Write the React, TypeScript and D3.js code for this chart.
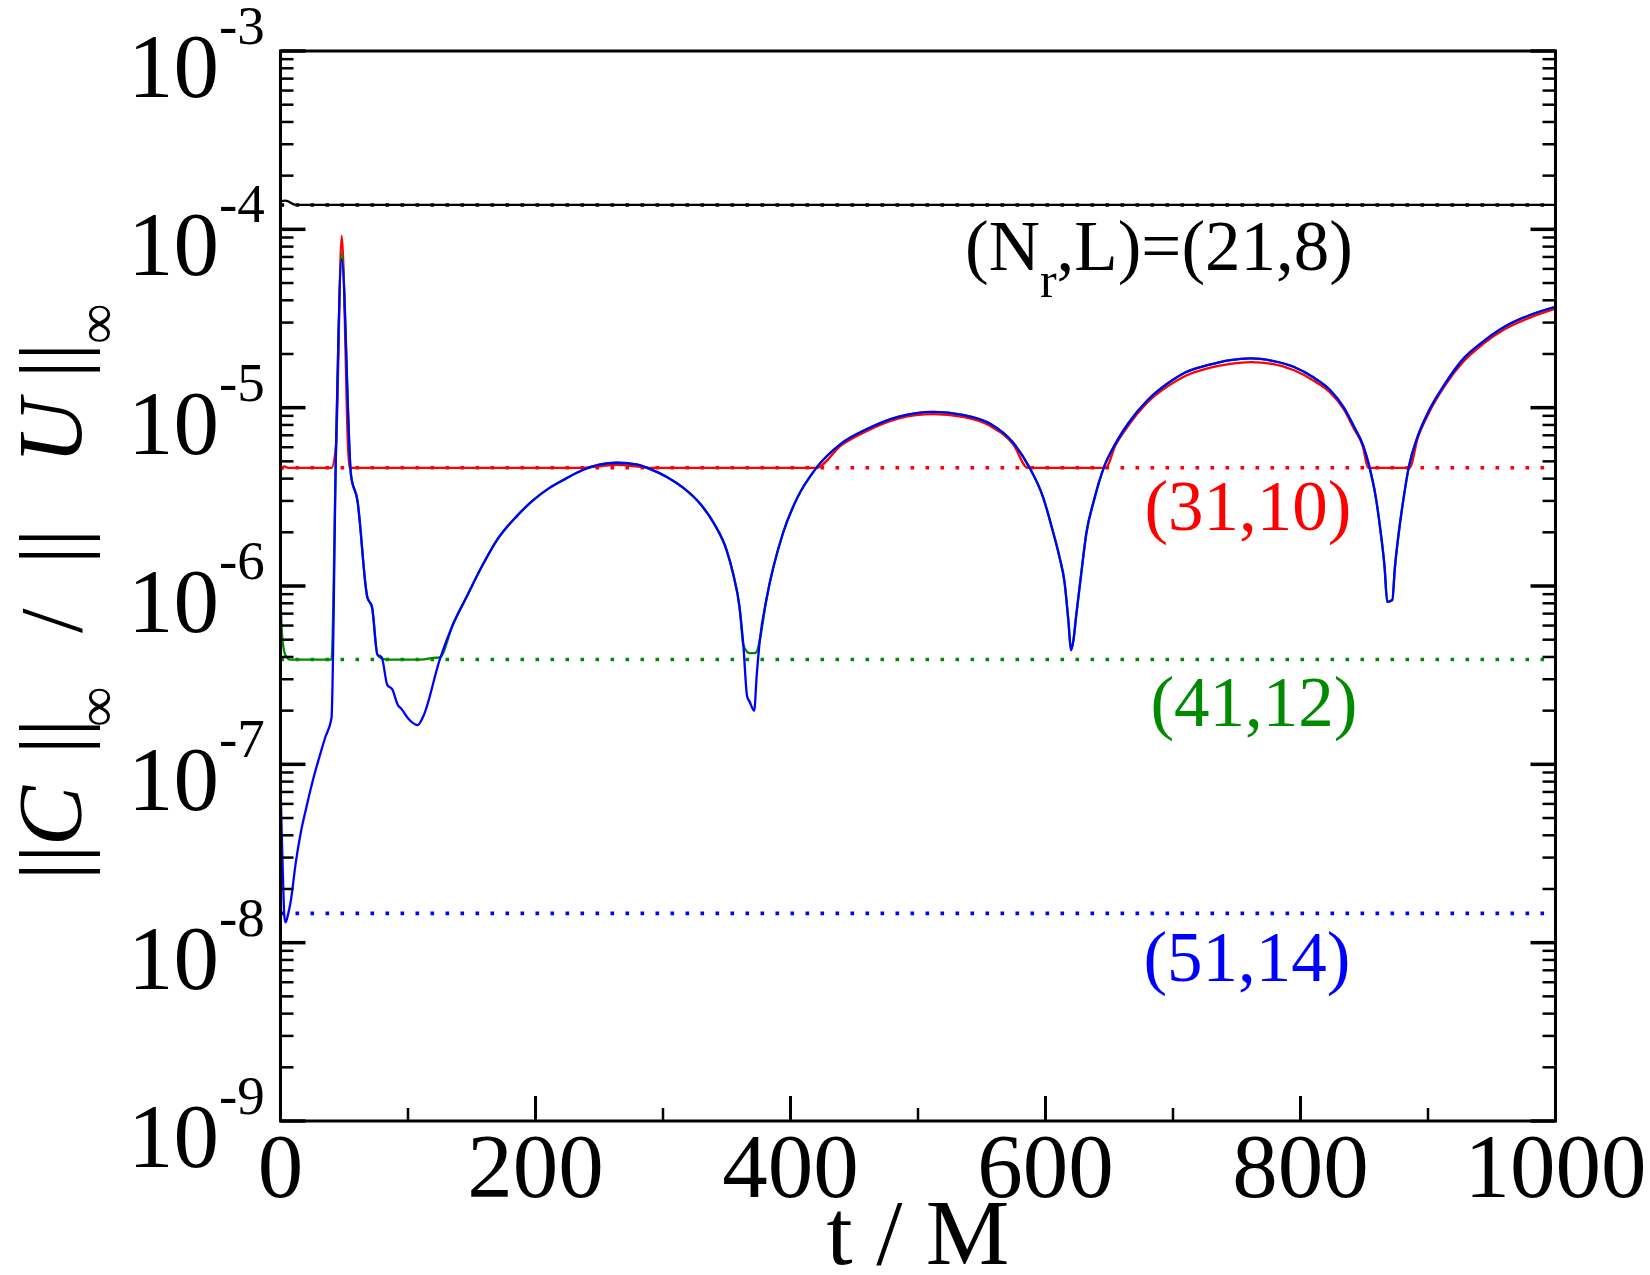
import React from "react";
import * as d3 from "d3";

// ---------- data (t / M, value) ----------
const blueT = [0, 1, 2, 3, 4, 6, 8, 12, 16, 20, 25, 30, 35, 40, 43.5, 48, 55.3, 60.3, 68, 71.8, 76, 79.4, 83.8, 87.7, 91.9, 95, 100.3, 107.6, 112, 125, 135, 146, 158, 170, 185, 198, 211, 224, 237, 250, 264, 280, 290, 303, 316, 329, 340, 350, 355, 360, 363, 366, 368, 371.5, 373.5, 376, 381, 394, 405, 420, 440, 460, 485, 512, 535, 556, 575, 587, 598, 606, 611, 615, 618, 620, 622, 624, 628, 632, 638, 646, 655, 665, 680, 696, 710, 727, 745, 761, 778, 795, 810, 823, 834, 842, 849, 854, 859, 863, 866, 868, 872, 874, 877, 881, 885, 892, 901, 913, 928, 943, 960, 980, 1000];
const blueV = [7.76e-8, 3.98e-8, 2.24e-8, 1.41e-8, 1.30e-8, 1.45e-8, 1.70e-8, 2.82e-8, 4.17e-8, 5.62e-8, 7.94e-8, 1.07e-7, 1.41e-7, 1.82e-7, 5.62e-6, 6.81e-5, 4.19e-6, 3.03e-6, 8.71e-7, 7.59e-7, 4.13e-7, 3.98e-7, 2.78e-7, 2.63e-7, 2.16e-7, 2.04e-7, 1.80e-7, 1.66e-7, 1.86e-7, 3.89e-7, 6.03e-7, 8.71e-7, 1.29e-6, 1.82e-6, 2.45e-6, 3.02e-6, 3.55e-6, 4.01e-6, 4.47e-6, 4.79e-6, 4.91e-6, 4.79e-6, 4.52e-6, 4.09e-6, 3.55e-6, 2.90e-6, 2.24e-6, 1.58e-6, 1.17e-6, 7.64e-7, 4.68e-7, 2.40e-7, 2.24e-7, 2.00e-7, 3.16e-7, 5.01e-7, 8.32e-7, 1.97e-6, 3.09e-6, 4.57e-6, 6.31e-6, 7.59e-6, 8.91e-6, 9.48e-6, 9.12e-6, 8.17e-6, 6.31e-6, 4.67e-6, 3.16e-6, 2.00e-6, 1.45e-6, 1.04e-6, 6.31e-7, 4.37e-7, 5.01e-7, 6.76e-7, 1.17e-6, 1.97e-6, 3.02e-6, 4.67e-6, 6.31e-6, 8.18e-6, 1.10e-5, 1.37e-5, 1.58e-5, 1.73e-5, 1.85e-5, 1.89e-5, 1.83e-5, 1.69e-5, 1.48e-5, 1.26e-5, 1.00e-5, 7.82e-6, 6.17e-6, 4.67e-6, 3.16e-6, 1.97e-6, 1.26e-6, 8.15e-7, 8.34e-7, 1.26e-6, 1.97e-6, 3.16e-6, 4.67e-6, 6.92e-6, 9.70e-6, 1.35e-5, 1.89e-5, 2.34e-5, 2.84e-5, 3.31e-5, 3.68e-5];

const redT = [0, 3, 6, 40, 43.5, 48, 54, 237, 245, 264, 283, 292, 420, 440, 460, 485, 512, 535, 556, 575, 586, 647, 655, 665, 680, 696, 710, 727, 745, 761, 778, 795, 810, 823, 834, 842, 849, 853, 885.5, 892, 901, 913, 928, 943, 960, 980, 1000];
const redV = [4.41e-6, 4.68e-6, 4.60e-6, 4.60e-6, 6.10e-6, 9.20e-5, 4.60e-6, 4.60e-6, 4.65e-6, 4.78e-6, 4.65e-6, 4.60e-6, 4.60e-6, 6.17e-6, 7.41e-6, 8.71e-6, 9.20e-6, 8.87e-6, 7.94e-6, 6.17e-6, 4.60e-6, 4.60e-6, 6.17e-6, 7.94e-6, 1.07e-5, 1.32e-5, 1.51e-5, 1.66e-5, 1.76e-5, 1.80e-5, 1.76e-5, 1.62e-5, 1.42e-5, 1.22e-5, 9.77e-6, 7.59e-6, 6.03e-6, 4.60e-6, 4.60e-6, 6.76e-6, 9.44e-6, 1.32e-5, 1.82e-5, 2.27e-5, 2.75e-5, 3.20e-5, 3.59e-5];

const greenT = [0, 1, 2, 3, 5, 7, 40, 43.5, 48, 55.3, 60.3, 68, 71.8, 76, 80, 84, 110, 120, 125, 135, 146, 158, 170, 185, 198, 211, 224, 237, 250, 264, 280, 290, 303, 316, 329, 340, 350, 355, 360, 363, 366, 368, 371.5, 373.5, 376, 381, 394, 405, 420, 440, 460, 485, 512, 535, 556, 575, 587, 598, 606, 611, 615, 618, 620, 622, 624, 628, 632, 638, 646, 655, 665, 680, 696, 710, 727, 745, 761, 778, 795, 810, 823, 834, 842, 849, 854, 859, 863, 866, 868, 872, 874, 877, 881, 885, 892, 901, 913, 928, 943, 960, 980, 1000];
const greenV = [8.71e-7, 5.62e-7, 4.68e-7, 4.27e-7, 3.98e-7, 3.87e-7, 3.87e-7, 5.62e-6, 7.31e-5, 4.19e-6, 3.03e-6, 8.71e-7, 7.59e-7, 4.13e-7, 3.90e-7, 3.87e-7, 3.87e-7, 3.95e-7, 3.98e-7, 6.03e-7, 8.71e-7, 1.29e-6, 1.82e-6, 2.45e-6, 3.02e-6, 3.55e-6, 4.01e-6, 4.47e-6, 4.79e-6, 4.91e-6, 4.79e-6, 4.52e-6, 4.09e-6, 3.55e-6, 2.90e-6, 2.24e-6, 1.58e-6, 1.17e-6, 7.64e-7, 4.68e-7, 4.27e-7, 4.20e-7, 4.20e-7, 4.27e-7, 5.01e-7, 8.32e-7, 1.97e-6, 3.09e-6, 4.57e-6, 6.31e-6, 7.59e-6, 8.91e-6, 9.48e-6, 9.12e-6, 8.17e-6, 6.31e-6, 4.67e-6, 3.16e-6, 2.00e-6, 1.45e-6, 1.04e-6, 6.31e-7, 4.37e-7, 5.01e-7, 6.76e-7, 1.17e-6, 1.97e-6, 3.02e-6, 4.67e-6, 6.31e-6, 8.18e-6, 1.10e-5, 1.37e-5, 1.58e-5, 1.73e-5, 1.85e-5, 1.89e-5, 1.83e-5, 1.69e-5, 1.48e-5, 1.26e-5, 1.00e-5, 7.82e-6, 6.17e-6, 4.67e-6, 3.16e-6, 1.97e-6, 1.26e-6, 8.15e-7, 8.34e-7, 1.26e-6, 1.97e-6, 3.16e-6, 4.67e-6, 6.92e-6, 9.70e-6, 1.35e-5, 1.89e-5, 2.34e-5, 2.84e-5, 3.31e-5, 3.68e-5];

const blackT = [0, 4, 12, 1000];
const blackV = [1.44e-4, 1.45e-4, 1.37e-4, 1.37e-4];

// dotted reference levels (one per resolution)
const levelNames = ["(21,8)", "(31,10)", "(41,12)", "(51,14)"];
const levelValues = [1.37e-4, 4.6e-6, 3.87e-7, 1.46e-8];
const levelColors = ["#000000", "#ff0000", "#008a00", "#0000ff"];

const xMajorTicks = [0, 200, 400, 600, 800, 1000];
const xMinorTicks = [100, 300, 500, 700, 900];
const yExponents = [-9, -8, -7, -6, -5, -4, -3];

const FONT = "'Liberation Serif', 'Times New Roman', serif";

export default function App() {
  const W = 1650, H = 1275;
  const L = 280.5, R = 1555.5, T = 51, B = 1121;
  const x = d3.scaleLinear().domain([0, 1000]).range([L, R]);
  const y = d3.scaleLog().domain([1e-9, 1e-3]).range([B, T]);

  const path = (ts: number[], vs: number[]) =>
    d3
      .line<number>()
      .x((_, i) => x(ts[i]))
      .y((_, i) => y(vs[i]))
      .curve(d3.curveMonotoneX)(ts as any) || "";

  const yMinor: number[] = [];
  yExponents.slice(0, -1).forEach((e) => {
    for (let k = 2; k <= 9; k++) yMinor.push(k * Math.pow(10, e));
  });

  const series = [
    { t: blackT, v: blackV, c: levelColors[0] },
    { t: redT, v: redV, c: levelColors[1] },
    { t: greenT, v: greenV, c: levelColors[2] },
    { t: blueT, v: blueV, c: levelColors[3] },
  ];

  return (
    <svg width={W} height={H} style={{ position: "absolute", left: 0, top: 0, background: "#fff" }} fontFamily={FONT}>
      <rect x={0} y={0} width={W} height={H} fill="#fff" />
      <defs>
        <clipPath id="plot">
          <rect x={L} y={T} width={R - L} height={B - T} />
        </clipPath>
      </defs>
      <g clipPath="url(#plot)">
        {series.map((s, i) => (
          <g key={i}>
            <path d={path(s.t, s.v)} fill="none" stroke={s.c} strokeWidth={2.3} strokeLinejoin="round" />
            <line x1={x(0)} x2={x(1000)} y1={y(levelValues[i])} y2={y(levelValues[i])} stroke={s.c} strokeWidth={3.6} strokeDasharray="3.6 11.4" />
          </g>
        ))}
      </g>

      {/* frame */}
      <rect x={L} y={T} width={R - L} height={B - T} fill="none" stroke="#000" strokeWidth={3} />

      {/* x ticks */}
      {xMajorTicks.map((t) => (
        <line key={"xm" + t} x1={x(t)} x2={x(t)} y1={B} y2={B - 25} stroke="#000" strokeWidth={3} />
      ))}
      {xMinorTicks.map((t) => (
        <line key={"xn" + t} x1={x(t)} x2={x(t)} y1={B} y2={B - 13} stroke="#000" strokeWidth={2.5} />
      ))}
      {xMajorTicks.map((t) => (
        <text key={"xl" + t} x={x(t)} y={1197} fontSize={91} textAnchor="middle" fill="#000">
          {t}
        </text>
      ))}

      {/* y ticks */}
      {yExponents.map((e) => {
        const yy = y(Math.pow(10, e));
        return (
          <g key={"ym" + e}>
            <line x1={L} x2={L + 25} y1={yy} y2={yy} stroke="#000" strokeWidth={3.5} />
            <line x1={R} x2={R - 25} y1={yy} y2={yy} stroke="#000" strokeWidth={3.5} />
            <text x={219} y={yy + 46} fontSize={91} textAnchor="end" fill="#000">10</text>
            <text x={219} y={yy - 7} fontSize={55} textAnchor="start" fill="#000">{"-" + -e}</text>
          </g>
        );
      })}
      {yMinor.map((v, i) => (
        <g key={"yn" + i}>
          <line x1={L} x2={L + 13} y1={y(v)} y2={y(v)} stroke="#000" strokeWidth={2.5} />
          <line x1={R} x2={R - 13} y1={y(v)} y2={y(v)} stroke="#000" strokeWidth={2.5} />
        </g>
      ))}

      {/* series labels */}
      <text x={965} y={270} fontSize={71} fill="#000">
        (N<tspan fontSize={50} dy={27}>r</tspan><tspan dy={-27}>,L)=</tspan>{levelNames[0]}
      </text>
      <text x={1248} y={530} fontSize={71} fill={levelColors[1]} textAnchor="middle">{levelNames[1]}</text>
      <text x={1254} y={726} fontSize={71} fill={levelColors[2]} textAnchor="middle">{levelNames[2]}</text>
      <text x={1247} y={981} fontSize={71} fill={levelColors[3]} textAnchor="middle">{levelNames[3]}</text>

      {/* axis titles */}
      <text x={(L + R) / 2} y={1264} fontSize={94} textAnchor="middle" fill="#000">t / M</text>
      <g transform="translate(81,0) rotate(-90)" fill="#000">
        <text x={-880} y={0} fontSize={88}>||</text>
        <text x={-846} y={0} fontSize={90} fontStyle="italic">C</text>
        <text x={-754} y={0} fontSize={88}>||</text>
        <text x={-727} y={35} fontSize={57}>∞</text>
        <text x={-633} y={0} fontSize={88}>/</text>
        <text x={-564} y={0} fontSize={88}>||</text>
        <text x={-464} y={0} fontSize={90} fontStyle="italic">U</text>
        <text x={-378} y={0} fontSize={88}>||</text>
        <text x={-344} y={35} fontSize={57}>∞</text>
      </g>
    </svg>
  );
}
